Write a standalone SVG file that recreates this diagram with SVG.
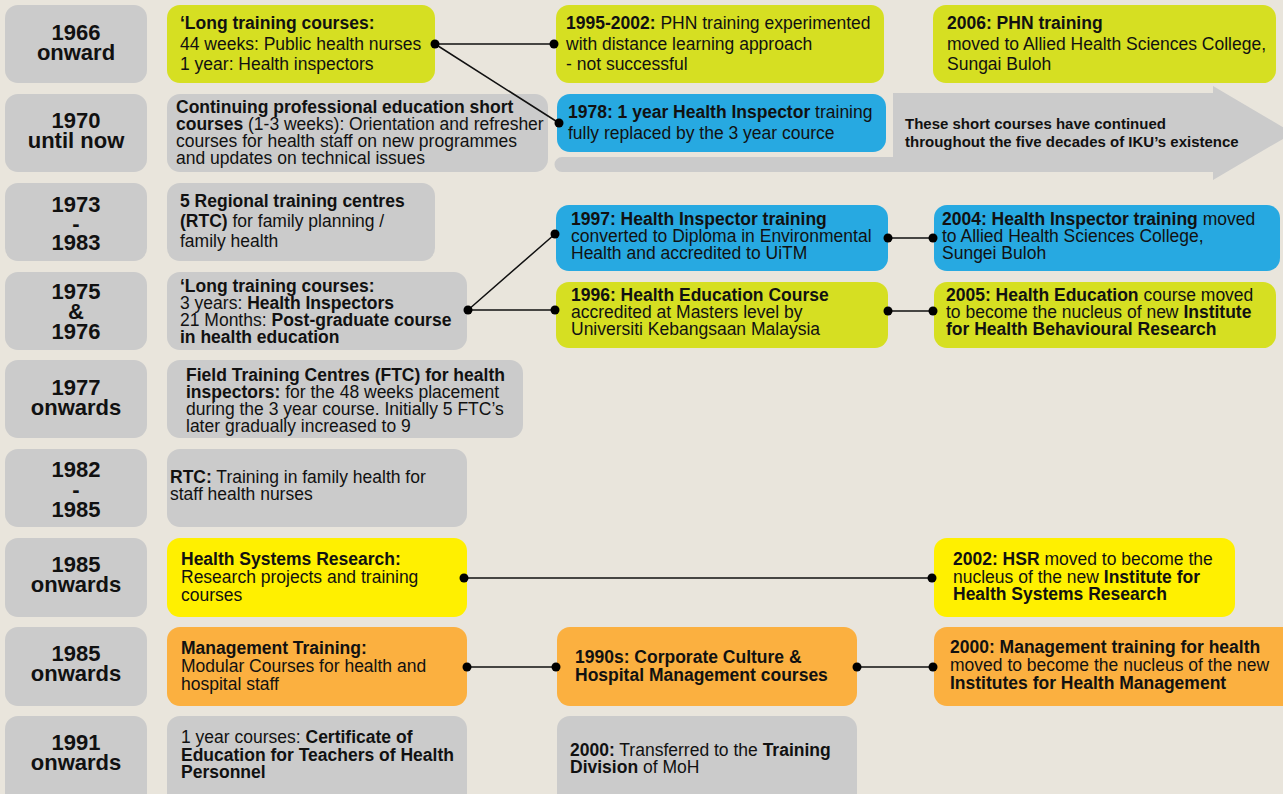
<svg xmlns="http://www.w3.org/2000/svg" width="1283" height="794" viewBox="0 0 1283 794">
<style>
.bg{fill:#e9e5dc}
.gray{fill:#cbcbcb}
.lime{fill:#d6df22}
.blue{fill:#27a9e1}
.yel{fill:#fff000}
.org{fill:#fbb040}
text{font-family:"Liberation Sans",Arial,sans-serif;fill:#111}
.yr{font-size:22px;font-weight:bold;text-anchor:middle}
.t{font-size:17.5px}
.b{font-weight:bold}
.a{font-size:15px;font-weight:bold}
.ln{stroke:#111;stroke-width:1.5;fill:none}
.dot{fill:#000}
</style>
<rect class="bg" x="0" y="0" width="1283" height="794"/>

<g id="arrow">
<path class="gray" d="M562 157 H893 V93 H1213 V86 L1293 133 L1213 180 V172 H562 A7.5 7.5 0 0 1 562 157 Z"/>
<text class="a" x="905" y="129">These short courses have continued</text>
<text class="a" x="905" y="147">throughout the five decades of IKU’s existence</text>
</g>

<g id="years">
<g id="y1966"><rect class="gray" x="5" y="5" width="142" height="78" rx="13"/><text class="yr" x="76" y="40">1966</text><text class="yr" x="76" y="60">onward</text></g>
<g id="y1970"><rect class="gray" x="5" y="94" width="142" height="78" rx="13"/><text class="yr" x="76" y="128">1970</text><text class="yr" x="76" y="148">until now</text></g>
<g id="y1973"><rect class="gray" x="5" y="183" width="142" height="78" rx="13"/><text class="yr" x="76" y="212">1973</text><text class="yr" x="76" y="231">-</text><text class="yr" x="76" y="250">1983</text></g>
<g id="y1975"><rect class="gray" x="5" y="272" width="142" height="78" rx="13"/><text class="yr" x="76" y="299">1975</text><text class="yr" x="76" y="319">&amp;</text><text class="yr" x="76" y="339">1976</text></g>
<g id="y1977"><rect class="gray" x="5" y="360" width="142" height="78" rx="13"/><text class="yr" x="76" y="395">1977</text><text class="yr" x="76" y="415">onwards</text></g>
<g id="y1982"><rect class="gray" x="5" y="449" width="142" height="78" rx="13"/><text class="yr" x="76" y="477">1982</text><text class="yr" x="76" y="497">-</text><text class="yr" x="76" y="517">1985</text></g>
<g id="y1985a"><rect class="gray" x="5" y="538" width="142" height="79" rx="13"/><text class="yr" x="76" y="572">1985</text><text class="yr" x="76" y="592">onwards</text></g>
<g id="y1985b"><rect class="gray" x="5" y="627" width="142" height="79" rx="13"/><text class="yr" x="76" y="661">1985</text><text class="yr" x="76" y="681">onwards</text></g>
<g id="y1991"><rect class="gray" x="5" y="716" width="142" height="90" rx="13"/><text class="yr" x="76" y="750">1991</text><text class="yr" x="76" y="770">onwards</text></g>
</g>

<g id="n-long1966"><rect class="lime" x="167" y="5" width="268" height="78" rx="13"/>
<text class="t" x="180" y="29"><tspan class="b">‘Long training courses:</tspan></text>
<text class="t" x="180" y="50">44 weeks: Public health nurses</text>
<text class="t" x="180" y="70">1 year: Health inspectors</text></g>

<g id="n-cpe"><rect class="gray" x="167" y="94" width="381" height="78" rx="13"/>
<text class="t" x="176" y="113"><tspan class="b">Continuing professional education short</tspan></text>
<text class="t" x="176" y="130"><tspan class="b">courses</tspan> (1-3 weeks): Orientation and refresher</text>
<text class="t" x="176" y="147">courses for health staff on new programmes</text>
<text class="t" x="176" y="164">and updates on technical issues</text></g>

<g id="n-rtc"><rect class="gray" x="167" y="183" width="268" height="78" rx="13"/>
<text class="t" x="180" y="207"><tspan class="b">5 Regional training centres</tspan></text>
<text class="t" x="180" y="227"><tspan class="b">(RTC)</tspan> for family planning /</text>
<text class="t" x="180" y="247">family health</text></g>

<g id="n-long1975"><rect class="gray" x="167" y="272" width="300" height="78" rx="13"/>
<text class="t" x="180" y="292"><tspan class="b">‘Long training courses:</tspan></text>
<text class="t" x="180" y="309">3 years: <tspan class="b">Health Inspectors</tspan></text>
<text class="t" x="180" y="326">21 Months: <tspan class="b">Post-graduate course</tspan></text>
<text class="t" x="180" y="343"><tspan class="b">in health education</tspan></text></g>

<g id="n-ftc"><rect class="gray" x="167" y="360" width="356" height="78" rx="13"/>
<text class="t" x="186" y="381"><tspan class="b">Field Training Centres (FTC) for health</tspan></text>
<text class="t" x="186" y="398"><tspan class="b">inspectors:</tspan> for the 48 weeks placement</text>
<text class="t" x="186" y="415">during the 3 year course. Initially 5 FTC’s</text>
<text class="t" x="186" y="432">later gradually increased to 9</text></g>

<g id="n-rtc2"><rect class="gray" x="167" y="449" width="300" height="78" rx="13"/>
<text class="t" x="170" y="483"><tspan class="b">RTC:</tspan> Training in family health for</text>
<text class="t" x="170" y="500">staff health nurses</text></g>

<g id="n-hsr"><rect class="yel" x="167" y="538" width="300" height="79" rx="13"/>
<text class="t" x="181" y="565"><tspan class="b">Health Systems Research:</tspan></text>
<text class="t" x="181" y="583">Research projects and training</text>
<text class="t" x="181" y="601">courses</text></g>

<g id="n-mgmt"><rect class="org" x="167" y="627" width="300" height="79" rx="13"/>
<text class="t" x="181" y="654"><tspan class="b">Management Training:</tspan></text>
<text class="t" x="181" y="672">Modular Courses for health and</text>
<text class="t" x="181" y="690">hospital staff</text></g>

<g id="n-cert"><rect class="gray" x="167" y="716" width="300" height="90" rx="13"/>
<text class="t" x="181" y="743">1 year courses: <tspan class="b">Certificate of</tspan></text>
<text class="t" x="181" y="761"><tspan class="b">Education for Teachers of Health</tspan></text>
<text class="t" x="181" y="778"><tspan class="b">Personnel</tspan></text></g>

<g id="n-1995"><rect class="lime" x="556" y="5" width="328" height="78" rx="13"/>
<text class="t" x="566" y="29"><tspan class="b">1995-2002:</tspan> PHN training experimented</text>
<text class="t" x="566" y="50">with distance learning approach</text>
<text class="t" x="566" y="70">- not successful</text></g>

<g id="n-1978"><rect class="blue" x="557" y="94" width="329" height="58" rx="13"/>
<text class="t" x="568" y="118"><tspan class="b">1978: 1 year Health Inspector</tspan> training</text>
<text class="t" x="568" y="139">fully replaced by the 3 year cource</text></g>

<g id="n-1997"><rect class="blue" x="556" y="205" width="332" height="66" rx="13"/>
<text class="t" x="571" y="225"><tspan class="b">1997: Health Inspector training</tspan></text>
<text class="t" x="571" y="242">converted to Diploma in Environmental</text>
<text class="t" x="571" y="259">Health and accredited to UiTM</text></g>

<g id="n-1996"><rect class="lime" x="556" y="282" width="332" height="66" rx="13"/>
<text class="t" x="571" y="301"><tspan class="b">1996: Health Education Course</tspan></text>
<text class="t" x="571" y="318">accredited at Masters level by</text>
<text class="t" x="571" y="335">Universiti Kebangsaan Malaysia</text></g>

<g id="n-1990s"><rect class="org" x="557" y="627" width="300" height="79" rx="13"/>
<text class="t" x="575" y="663"><tspan class="b">1990s: Corporate Culture &amp;</tspan></text>
<text class="t" x="575" y="681"><tspan class="b">Hospital Management courses</tspan></text></g>

<g id="n-2000t"><rect class="gray" x="557" y="716" width="300" height="90" rx="13"/>
<text class="t" x="570" y="756"><tspan class="b">2000:</tspan> Transferred to the <tspan class="b">Training</tspan></text>
<text class="t" x="570" y="773"><tspan class="b">Division</tspan> of MoH</text></g>

<g id="n-2006"><rect class="lime" x="933" y="5" width="343" height="78" rx="13"/>
<text class="t" x="947" y="29"><tspan class="b">2006: PHN training</tspan></text>
<text class="t" x="947" y="50">moved to Allied Health Sciences College,</text>
<text class="t" x="947" y="70">Sungai Buloh</text></g>

<g id="n-2004"><rect class="blue" x="934" y="205" width="346" height="66" rx="13"/>
<text class="t" x="942" y="225"><tspan class="b">2004: Health Inspector training</tspan> moved</text>
<text class="t" x="942" y="242">to Allied Health Sciences College,</text>
<text class="t" x="942" y="259">Sungei Buloh</text></g>

<g id="n-2005"><rect class="lime" x="934" y="282" width="342" height="66" rx="13"/>
<text class="t" x="946" y="301"><tspan class="b">2005: Health Education</tspan> course moved</text>
<text class="t" x="946" y="318">to become the nucleus of new <tspan class="b">Institute</tspan></text>
<text class="t" x="946" y="335"><tspan class="b">for Health Behavioural Research</tspan></text></g>

<g id="n-2002"><rect class="yel" x="934" y="538" width="301" height="79" rx="13"/>
<text class="t" x="953" y="565"><tspan class="b">2002: HSR</tspan> moved to become the</text>
<text class="t" x="953" y="583">nucleus of the new <tspan class="b">Institute for</tspan></text>
<text class="t" x="953" y="600"><tspan class="b">Health Systems Research</tspan></text></g>

<g id="n-2000m"><rect class="org" x="934" y="627" width="362" height="79" rx="13"/>
<text class="t" x="950" y="653"><tspan class="b">2000: Management training for health</tspan></text>
<text class="t" x="950" y="671">moved to become the nucleus of the new</text>
<text class="t" x="950" y="689"><tspan class="b">Institutes for Health Management</tspan></text></g>

<g id="connectors">
<path class="ln" d="M435 44 H554 M435 44 L559 123 M468 310 L555 234 M468 310 H555 M888 238 H933 M888 311 H933 M464 578 H932 M467 667 H556 M857 667 H933"/>
<circle class="dot" cx="435" cy="44" r="4.5"/>
<circle class="dot" cx="554" cy="44" r="4.5"/>
<circle class="dot" cx="559" cy="123" r="4.5"/>
<circle class="dot" cx="468" cy="310" r="4.5"/>
<circle class="dot" cx="555" cy="234" r="4.5"/>
<circle class="dot" cx="555" cy="310" r="4.5"/>
<circle class="dot" cx="888" cy="238" r="4.5"/>
<circle class="dot" cx="933" cy="238" r="4.5"/>
<circle class="dot" cx="888" cy="311" r="4.5"/>
<circle class="dot" cx="933" cy="311" r="4.5"/>
<circle class="dot" cx="464" cy="578" r="4.5"/>
<circle class="dot" cx="932" cy="578" r="4.5"/>
<circle class="dot" cx="467" cy="667" r="4.5"/>
<circle class="dot" cx="556" cy="667" r="4.5"/>
<circle class="dot" cx="857" cy="667" r="4.5"/>
<circle class="dot" cx="933" cy="667" r="4.5"/>
</g>
</svg>
